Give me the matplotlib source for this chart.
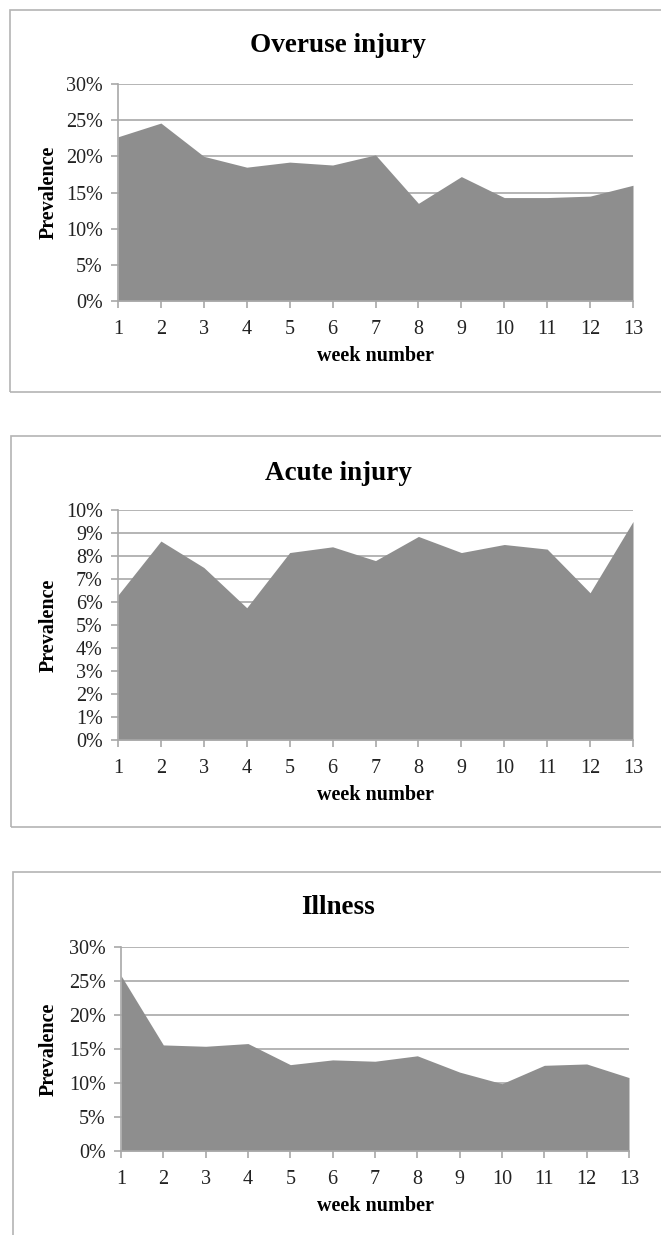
# -*- coding: utf-8 -*-
"""
Weekly prevalence of overuse injury, acute injury and illness, drawn as
three stacked area charts in the old spreadsheet style.
"""
import matplotlib
matplotlib.use('Agg')
import matplotlib.pyplot as plt
from matplotlib.patches import Rectangle
from matplotlib.ticker import FuncFormatter
import numpy as np

weeks = list(range(1, 14))
overuse = [22.7, 24.6, 20.0, 18.5, 19.2, 18.8, 20.2, 13.5, 17.2, 14.3, 14.3, 14.5, 16.0]
acute = [6.3, 8.65, 7.5, 5.75, 8.15, 8.4, 7.8, 8.85, 8.15, 8.5, 8.3, 6.4, 9.5]
illness = [25.8, 15.6, 15.4, 15.8, 12.7, 13.4, 13.2, 14.0, 11.6, 9.9, 12.6, 12.8, 10.8]

titles = ['Overuse injury', 'Acute injury', 'Illness']
series = [overuse, acute, illness]
ymaxes = [30, 10, 30]
ysteps = [5, 1, 5]

W, H = 661, 1235
fill_c = '#8e8e8e'
grid_c = '#a8a8a8'
font = ['Liberation Serif', 'DejaVu Serif']

plt.rcParams['font.family'] = font

fig = plt.figure(figsize=(W/100.0, H/100.0), dpi=100)

# pixel layout of each panel: axes l, r, top, bottom; box l, top, bottom; title y
layout = [
    dict(ax=(118, 633, 84, 301), box=(10, 10, 392), title=45),
    dict(ax=(118, 633, 510, 740), box=(11, 436, 827), title=473),
    dict(ax=(121, 629, 947, 1151), box=(13, 872, 1300), title=907),
]

def fx(px):
    return px/float(W)

def fy(py):
    return 1 - py/float(H)

for title, vals, ymax, ystep, lay in zip(titles, series, ymaxes, ysteps, layout):
    l, r, t, b = lay['ax']
    ax = fig.add_axes([fx(l), fy(b), fx(r) - fx(l), fy(t) - fy(b)])

    #outer frame of the chart
    bl, bt, bb = lay['box']
    fig.add_artist(Rectangle((fx(bl), fy(bb)), 1.2, fy(bt) - fy(bb),
                             transform=fig.transFigure, fill=False,
                             edgecolor='#b4b4b4', lw=1.2))

    #grid and area
    yt = np.arange(0, ymax + ystep/2.0, ystep)
    for y in yt[1:]:
        ax.axhline(y, color=grid_c, lw=1.2, zorder=1)
    ax.fill_between(weeks, vals, 0, color=fill_c, lw=0, zorder=2)

    ax.set_xlim(1, 13)
    ax.set_ylim(0, ymax)
    ax.set_xticks(weeks)
    ax.set_yticks(yt)
    ax.yaxis.set_major_formatter(FuncFormatter(lambda v, p: '%d%%' % round(v)))
    ax.tick_params(axis='both', colors=grid_c, labelcolor='#222222',
                   labelsize=14.5, length=5, width=1.2)
    ax.tick_params(axis='y', pad=6)
    ax.tick_params(axis='x', pad=9)

    for s in ['top', 'right']:
        ax.spines[s].set_visible(False)
    ax.spines['left'].set_color(grid_c)
    ax.spines['left'].set_linewidth(1.2)
    ax.spines['bottom'].set_color(grid_c)
    ax.spines['bottom'].set_linewidth(1.2)

    fig.text(fx(338), fy(lay['title']), title, ha='center', va='center',
             fontsize=19.5, fontweight='bold')
    fig.text(fx(49), fy((t + b)/2.0), 'Prevalence', rotation=90, ha='center',
             va='center', fontsize=14.5, fontweight='bold')
    fig.text(fx((l + r)/2.0), fy(b + 55), 'week number', ha='center',
             va='center', fontsize=14.5, fontweight='bold')

fig.savefig('out.png', dpi=100)
